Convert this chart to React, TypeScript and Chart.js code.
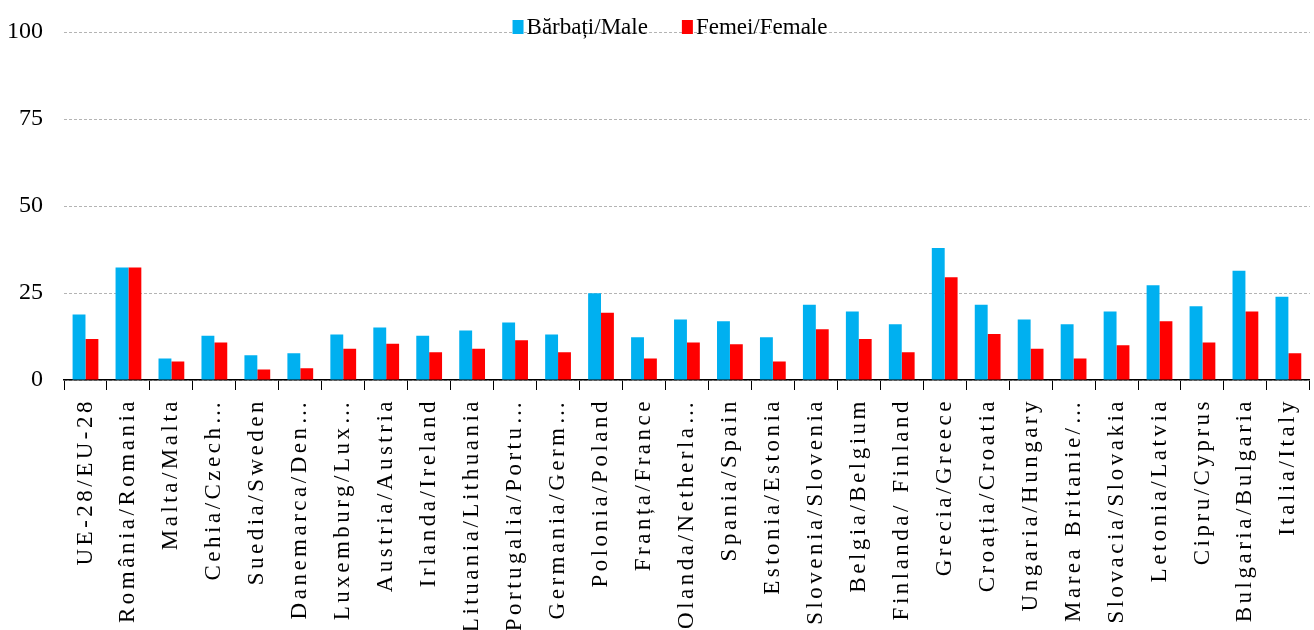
import React, { useEffect, useRef } from "react";
import { Chart, registerables } from "chart.js";

Chart.register(...registerables);

const categories = [
  "UE-28/EU-28",
  "România/Romania",
  "Malta/Malta",
  "Cehia/Czech…",
  "Suedia/Sweden",
  "Danemarca/Den…",
  "Luxemburg/Lux…",
  "Austria/Austria",
  "Irlanda/Ireland",
  "Lituania/Lithuania",
  "Portugalia/Portu…",
  "Germania/Germ…",
  "Polonia/Poland",
  "Franța/France",
  "Olanda/Netherla…",
  "Spania/Spain",
  "Estonia/Estonia",
  "Slovenia/Slovenia",
  "Belgia/Belgium",
  "Finlanda/ Finland",
  "Grecia/Greece",
  "Croația/Croatia",
  "Ungaria/Hungary",
  "Marea Britanie/…",
  "Slovacia/Slovakia",
  "Letonia/Latvia",
  "Cipru/Cyprus",
  "Bulgaria/Bulgaria",
  "Italia/Italy",
];

const maleValues = [
  18.8, 32.3, 6.2, 12.7, 7.1, 7.7, 13.1, 15.1, 12.7, 14.2, 16.5, 13.1, 24.9,
  12.3, 17.4, 16.9, 12.3, 21.6, 19.7, 16.0, 37.9, 21.6, 17.4, 16.0, 19.7, 27.2,
  21.2, 31.4, 23.9,
];

const femaleValues = [
  11.8, 32.3, 5.3, 10.8, 3.0, 3.4, 9.0, 10.4, 8.0, 9.0, 11.4, 8.0, 19.3, 6.2,
  10.8, 10.3, 5.3, 14.6, 11.8, 8.0, 29.5, 13.2, 9.0, 6.2, 10.0, 16.9, 10.8,
  19.7, 7.7,
];

const yTickValues = [0, 25, 50, 75, 100];
const seriesLabels = ["Bărbați/Male", "Femei/Female"];
const seriesColors = ["#00B0F0", "#FF0000"];

const FONT = "'Liberation Serif', 'Times New Roman', serif";

const topLegendPlugin = {
  id: "topLegend",
  afterDraw(chart: any) {
    const ctx = chart.ctx;
    ctx.save();
    ctx.font = `23px ${FONT}`;
    ctx.textBaseline = "alphabetic";
    const items = chart.data.datasets.map((d: any) => ({
      label: d.label,
      color: d.backgroundColor,
    }));
    const boxW = 11;
    const boxH = 14;
    const gap = 3;
    const itemGap = 34;
    const widths = items.map(
      (it: any) => boxW + gap + ctx.measureText(it.label).width
    );
    const total =
      widths.reduce((a: number, b: number) => a + b, 0) +
      itemGap * (items.length - 1);
    let x = 670 - total / 2;
    const baseline = 34;
    items.forEach((it: any, i: number) => {
      ctx.fillStyle = it.color;
      ctx.fillRect(x, baseline - boxH, boxW, boxH);
      ctx.fillStyle = "#000";
      ctx.fillText(it.label, x + boxW + gap, baseline);
      x += widths[i] + itemGap;
    });
    ctx.restore();
  },
};

const xLabelSpacingPlugin = {
  id: "xLabelSpacing",
  beforeDraw(chart: any) {
    const scale = chart.scales.x;
    if (scale && !scale._spacingPatched) {
      const orig = scale.drawLabels.bind(scale);
      scale.drawLabels = (area: any) => {
        const c = scale.ctx;
        c.save();
        c.letterSpacing = "3.5px";
        orig(area);
        c.restore();
      };
      scale._spacingPatched = true;
    }
  },
};

export default function App() {
  const canvasRef = useRef<HTMLCanvasElement | null>(null);

  useEffect(() => {
    if (!canvasRef.current) return;
    const chart = new Chart(canvasRef.current, {
      type: "bar",
      data: {
        labels: categories,
        datasets: [
          {
            label: seriesLabels[0],
            data: maleValues,
            backgroundColor: seriesColors[0],
            categoryPercentage: 0.6,
            barPercentage: 1.0,
          },
          {
            label: seriesLabels[1],
            data: femaleValues,
            backgroundColor: seriesColors[1],
            categoryPercentage: 0.6,
            barPercentage: 1.0,
          },
        ],
      },
      options: {
        responsive: false,
        animation: false,
        devicePixelRatio: 1,
        layout: { padding: { top: 32, right: 1, left: 0, bottom: 0 } },
        plugins: {
          legend: { display: false },
          tooltip: { enabled: false },
        },
        scales: {
          x: {
            grid: {
              display: true,
              drawOnChartArea: false,
              drawTicks: true,
              tickLength: 10,
              color: "#000",
              offset: true,
            },
            border: { display: true, color: "#000", width: 1.5 },
            ticks: {
              autoSkip: false,
              maxRotation: 90,
              minRotation: 90,
              padding: 8,
              color: "#000",
              font: { family: FONT, size: 23 },
            },
            afterFit: (s: any) => {
              s.height = 250;
            },
          },
          y: {
            min: 0,
            max: 100,
            afterBuildTicks: (s: any) => {
              s.ticks = yTickValues.map((v) => ({ value: v }));
            },
            grid: {
              color: "#b4b4b4",
              lineWidth: 1,
              drawTicks: true,
              tickLength: 19,
              tickColor: "rgba(0,0,0,0)",
            },
            border: { display: false, dash: [3, 2] },
            ticks: {
              padding: 2,
              color: "#000",
              font: { family: FONT, size: 24 },
            },
            afterFit: (s: any) => {
              s.width = 64;
            },
          },
        },
      } as any,
      plugins: [xLabelSpacingPlugin, topLegendPlugin],
    });
    return () => chart.destroy();
  }, []);

  return (
    <div
      style={{
        position: "fixed",
        left: 0,
        top: 0,
        width: 1314,
        height: 630,
        overflow: "hidden",
        background: "#fff",
      }}
    >
      <canvas
        ref={canvasRef}
        width={1324}
        height={630}
        style={{ display: "block" }}
      />
    </div>
  );
}
